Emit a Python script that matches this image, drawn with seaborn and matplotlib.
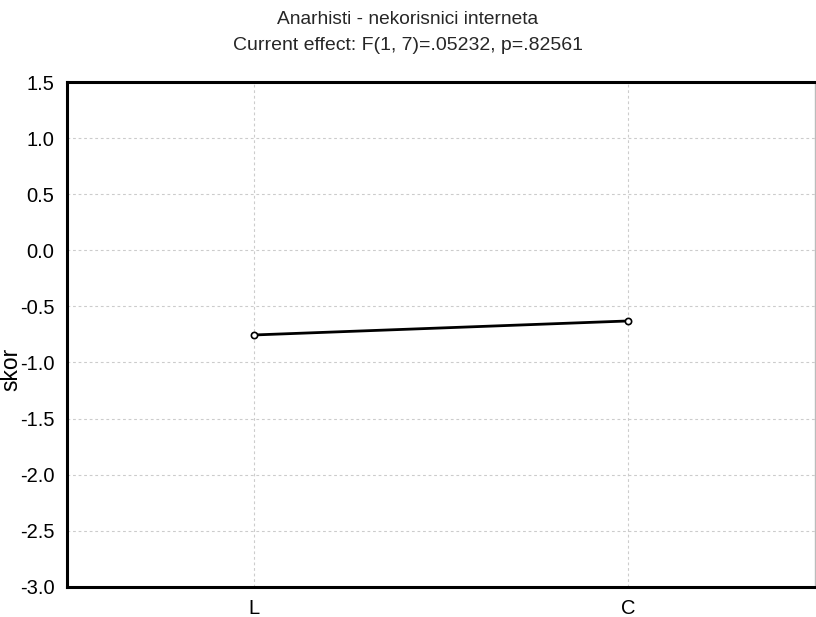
import pandas as pd
import matplotlib
matplotlib.use("Agg")
import matplotlib.pyplot as plt
import seaborn as sns

sns.set_theme(style="white")
plt.rcParams["font.family"] = ["Liberation Sans", "DejaVu Sans"]

# data
conditions = ["L", "C"]
scores = [-0.755, -0.63]
title_line1 = "Anarhisti - nekorisnici interneta"
title_line2 = "Current effect: F(1, 7)=.05232, p=.82561"

df = pd.DataFrame({"cond": conditions, "skor": scores})
df["pos"] = range(len(df))

fig = plt.figure(figsize=(8.16, 6.17), dpi=100)
ax = fig.add_axes([0.082, 0.049, 0.917, 0.818])

sns.lineplot(data=df, x="pos", y="skor", ax=ax, color="black", linewidth=2,
             marker="o", markersize=4.5, markerfacecolor="white",
             markeredgecolor="black", markeredgewidth=1.2)

ax.set_xlim(-0.5, 1.5)
ax.set_ylim(-3.0, 1.5)
ax.set_xticks(df["pos"])
ax.set_xticklabels(conditions)
ax.set_yticks([-3.0, -2.5, -2.0, -1.5, -1.0, -0.5, 0.0, 0.5, 1.0, 1.5])
ax.yaxis.set_major_formatter(matplotlib.ticker.FormatStrFormatter("%.1f"))

ax.grid(True, color="#cccccc", linestyle=(0, (2.5, 2.5)), linewidth=0.8)
ax.tick_params(axis="both", direction="in", length=4, width=1.5, color="black",
               labelsize=14.5, labelcolor="black")
ax.tick_params(axis="y", pad=9)
ax.tick_params(axis="x", pad=9)

for side in ["left", "bottom", "top"]:
    ax.spines[side].set_color("black")
    ax.spines[side].set_linewidth(2.2)
ax.spines["right"].set_color("#bbbbbb")
ax.spines["right"].set_linewidth(1)

ax.set_xlabel("")
ax.set_ylabel("skor", fontsize=16.5, color="black", va="center")
ax.yaxis.set_label_coords(-0.075, 0.43)

fig.text(0.5, 0.968, title_line1, ha="center", va="center", fontsize=13.8)
fig.text(0.5, 0.926, title_line2, ha="center", va="center", fontsize=14)

fig.savefig("out.png", dpi=100)
